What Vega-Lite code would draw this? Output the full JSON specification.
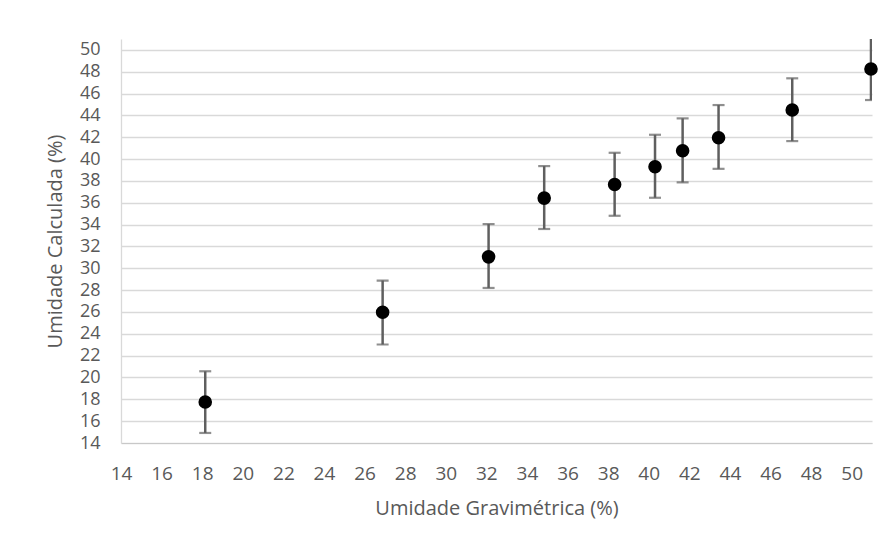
{
  "$schema": "https://vega.github.io/schema/vega-lite/v6.json",
  "width": 751,
  "height": 404,
  "autosize": {"type": "none"},
  "padding": {"left": 121, "top": 39, "right": 22, "bottom": 103},
  "background": "white",
  "config": {
    "view": {"stroke": null},
    "font": "Open Sans",
    "axis": {
      "labelColor": "#595959",
      "titleColor": "#595959",
      "labelFontSize": 19,
      "titleFontSize": 20,
      "titleFontWeight": "normal",
      "ticks": false,
      "tickSize": 0,
      "labelPadding": 21,
      "labelOverlap": false,
      "labelFlush": false,
      "labelBound": false
    }
  },
  "data": {
    "values": [
      {"x": 18.15, "y": 17.76, "lo": 14.92, "hi": 20.57},
      {"x": 26.89, "y": 25.98, "lo": 23.02, "hi": 28.88},
      {"x": 32.11, "y": 31.05, "lo": 28.2, "hi": 34.05},
      {"x": 34.85, "y": 36.43, "lo": 33.6, "hi": 39.36},
      {"x": 38.32, "y": 37.68, "lo": 34.81, "hi": 40.58},
      {"x": 40.31, "y": 39.3, "lo": 36.46, "hi": 42.23},
      {"x": 41.67, "y": 40.76, "lo": 37.87, "hi": 43.73},
      {"x": 43.44, "y": 41.96, "lo": 39.11, "hi": 44.95},
      {"x": 47.07, "y": 44.5, "lo": 41.65, "hi": 47.4},
      {"x": 50.95, "y": 48.25, "lo": 45.41, "hi": 51.1}
    ]
  },
  "encoding": {
    "x": {
      "field": "x", "type": "quantitative",
      "scale": {"domain": [14, 51], "nice": false, "zero": false},
      "axis": {
        "values": [14,16,18,20,22,24,26,28,30,32,34,36,38,40,42,44,46,48,50],
        "grid": false,
        "domainColor": "#c8c8c8",
        "domainWidth": 1.2,
        "title": "Umidade Gravimétrica (%)",
        "titlePadding": 15,
        "labelOverlap": false
      }
    }
  },
  "layer": [
    {
      "mark": {"type": "rule", "color": "#5f5f5f", "strokeWidth": 2.5, "clip": true},
      "encoding": {
        "y": {
          "field": "lo", "type": "quantitative",
          "scale": {"domain": [14, 51], "nice": false, "zero": false},
          "axis": {
            "values": [14,16,18,20,22,24,26,28,30,32,34,36,38,40,42,44,46,48,50],
            "tickCount": 19,
            "labelOverlap": false,
            "labelFontSize": 18,
            "grid": true,
            "gridColor": "#d9d9d9",
            "gridWidth": 1.3,
            "domainColor": "#d9d9d9",
            "domainWidth": 1.3,
            "title": "Umidade Calculada (%)",
            "titlePadding": 14
          }
        },
        "y2": {"field": "hi"}
      }
    },
    {
      "mark": {"type": "tick", "orient": "horizontal", "size": 12, "thickness": 2.2, "color": "#5f5f5f", "clip": true},
      "encoding": {
        "y": {"field": "lo", "type": "quantitative"}
      }
    },
    {
      "mark": {"type": "tick", "orient": "horizontal", "size": 12, "thickness": 2.2, "color": "#5f5f5f", "clip": true},
      "encoding": {
        "y": {"field": "hi", "type": "quantitative"}
      }
    },
    {
      "mark": {"type": "point", "filled": true, "size": 185, "color": "#000000", "opacity": 1},
      "encoding": {
        "y": {"field": "y", "type": "quantitative"}
      }
    }
  ]
}
